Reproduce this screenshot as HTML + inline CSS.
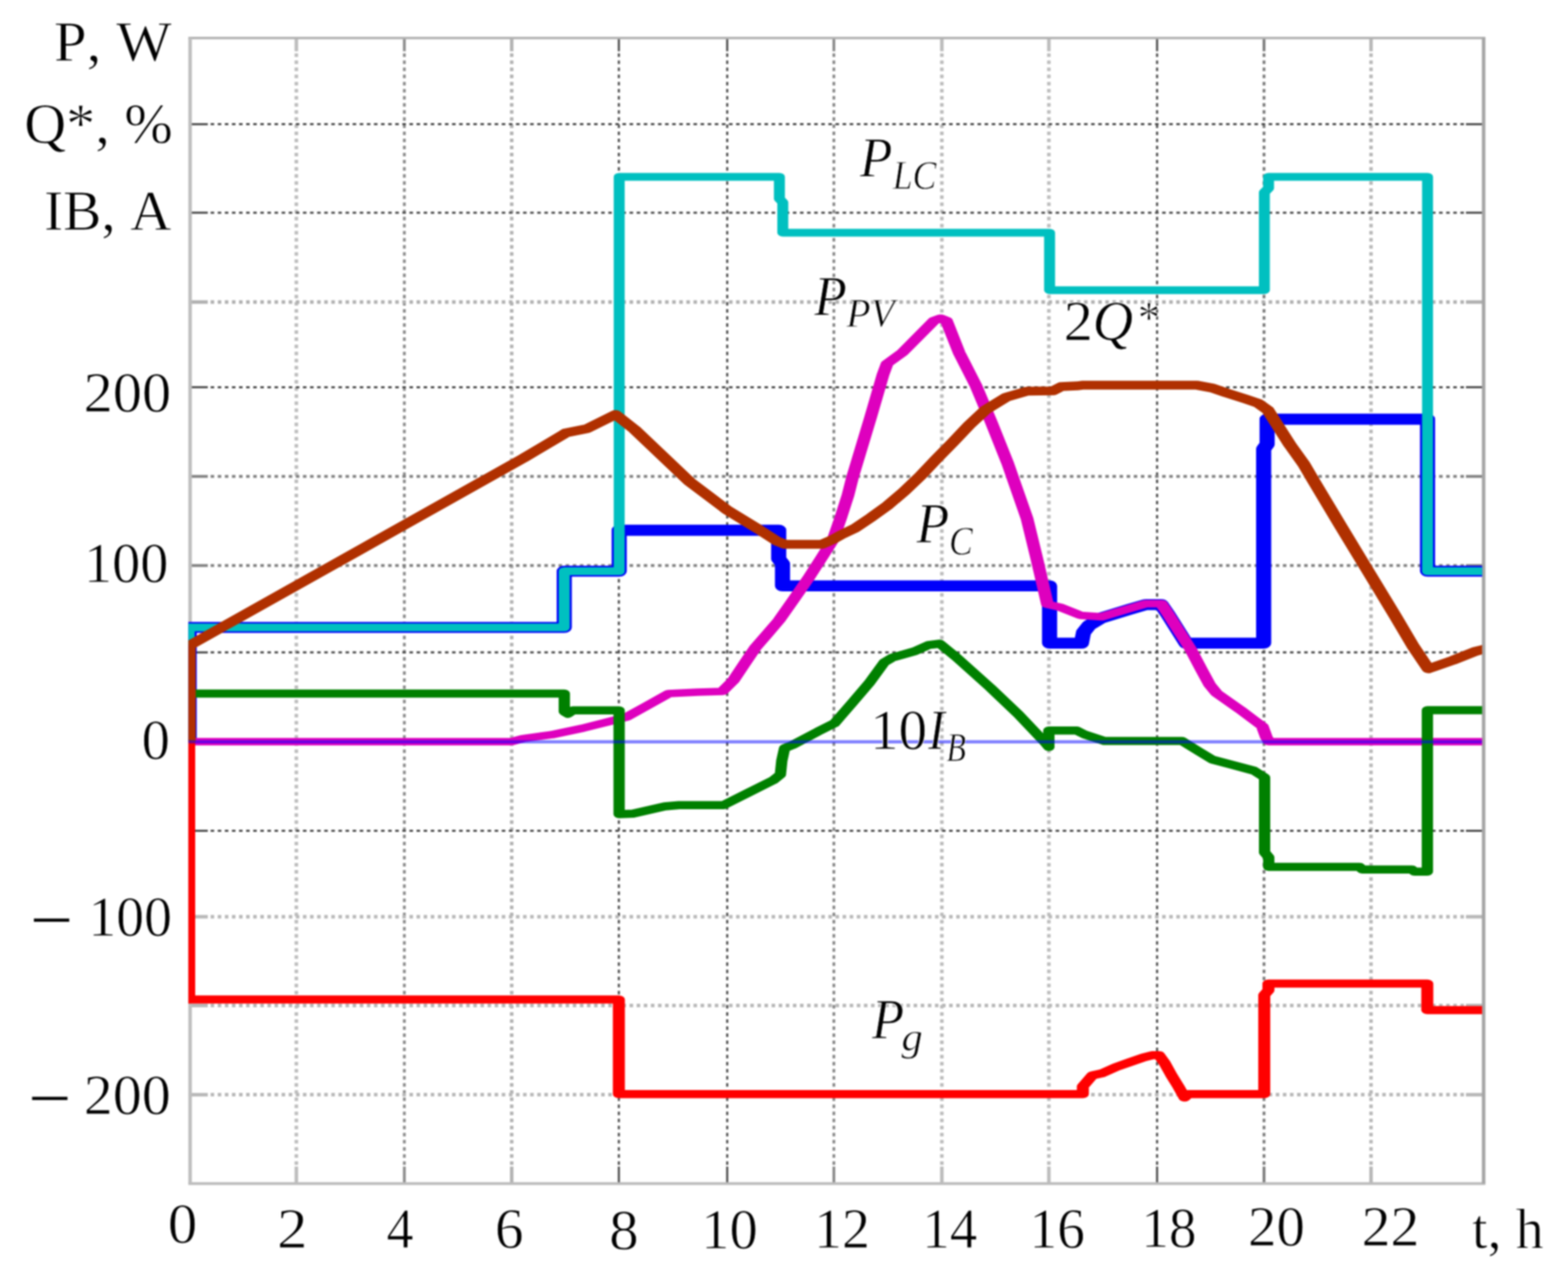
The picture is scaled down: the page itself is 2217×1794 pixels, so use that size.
<!DOCTYPE html>
<html lang="en"><head><meta charset="utf-8"><title>Power chart</title>
<style>
html,body{margin:0;padding:0;background:#fff;}
body{width:2217px;height:1794px;overflow:hidden;}
svg{display:block;}
text{font-family:"Liberation Serif","DejaVu Serif",serif;fill:#000;font-kerning:none;white-space:pre;stroke:#fff;stroke-width:0.9px;paint-order:fill stroke;}
.it{font-style:italic;}
</style></head><body>
<svg width="2217" height="1794" viewBox="0 0 2217 1794">
<rect x="0" y="0" width="2217" height="1794" fill="#fff"/>
<defs><filter id="soft" x="0" y="0" width="100%" height="100%" filterUnits="userSpaceOnUse" color-interpolation-filters="sRGB"><feGaussianBlur stdDeviation="0.85"/></filter></defs>
<g filter="url(#soft)">
<rect x="0" y="0" width="2217" height="1794" fill="#fff"/>
<g fill="none" stroke-dasharray="5 5.04">
<line x1="419.0" y1="75.5" x2="419.0" y2="1649.2" stroke="#bcbcbc" stroke-width="5"/>
<line x1="571.7" y1="75.5" x2="571.7" y2="1649.2" stroke="#8c8c8c" stroke-width="4"/>
<line x1="723.5" y1="75.5" x2="723.5" y2="1649.2" stroke="#b4b4b4" stroke-width="5"/>
<line x1="875.0" y1="75.5" x2="875.0" y2="1649.2" stroke="#4c4c4c" stroke-width="3"/>
<line x1="1028.2" y1="75.5" x2="1028.2" y2="1649.2" stroke="#4c4c4c" stroke-width="3"/>
<line x1="1179.0" y1="75.5" x2="1179.0" y2="1649.2" stroke="#8c8c8c" stroke-width="4"/>
<line x1="1331.7" y1="75.5" x2="1331.7" y2="1649.2" stroke="#bcbcbc" stroke-width="5"/>
<line x1="1483.0" y1="75.5" x2="1483.0" y2="1649.2" stroke="#bcbcbc" stroke-width="5"/>
<line x1="1636.0" y1="75.5" x2="1636.0" y2="1649.2" stroke="#4c4c4c" stroke-width="3"/>
<line x1="1787.2" y1="75.5" x2="1787.2" y2="1649.2" stroke="#7c7c7c" stroke-width="4"/>
<line x1="1938.5" y1="75.5" x2="1938.5" y2="1649.2" stroke="#b8b8b8" stroke-width="5"/>
<line x1="297.8" y1="175.6" x2="2072.7" y2="175.6" stroke="#4c4c4c" stroke-width="3"/>
<line x1="297.8" y1="300.7" x2="2072.7" y2="300.7" stroke="#4c4c4c" stroke-width="3"/>
<line x1="297.8" y1="427.0" x2="2072.7" y2="427.0" stroke="#b0b0b0" stroke-width="5"/>
<line x1="297.8" y1="547.4" x2="2072.7" y2="547.4" stroke="#4c4c4c" stroke-width="3"/>
<line x1="297.8" y1="673.5" x2="2072.7" y2="673.5" stroke="#808080" stroke-width="4"/>
<line x1="297.8" y1="799.5" x2="2072.7" y2="799.5" stroke="#808080" stroke-width="4"/>
<line x1="297.8" y1="922.3" x2="2072.7" y2="922.3" stroke="#4c4c4c" stroke-width="3"/>
<line x1="297.8" y1="1174.5" x2="2072.7" y2="1174.5" stroke="#4c4c4c" stroke-width="3"/>
<line x1="297.8" y1="1296.0" x2="2072.7" y2="1296.0" stroke="#b8b8b8" stroke-width="5"/>
<line x1="297.8" y1="1421.5" x2="2072.7" y2="1421.5" stroke="#b8b8b8" stroke-width="5"/>
<line x1="297.8" y1="1547.6" x2="2072.7" y2="1547.6" stroke="#b8b8b8" stroke-width="5"/>
</g>
<g fill="none">
<line x1="419.0" y1="53.5" x2="419.0" y2="72.5" stroke="#bcbcbc" stroke-width="5"/>
<line x1="419.0" y1="1649.2" x2="419.0" y2="1673.2" stroke="#bcbcbc" stroke-width="5"/>
<line x1="571.7" y1="53.5" x2="571.7" y2="72.5" stroke="#8c8c8c" stroke-width="4"/>
<line x1="571.7" y1="1649.2" x2="571.7" y2="1673.2" stroke="#8c8c8c" stroke-width="4"/>
<line x1="723.5" y1="53.5" x2="723.5" y2="72.5" stroke="#b4b4b4" stroke-width="5"/>
<line x1="723.5" y1="1649.2" x2="723.5" y2="1673.2" stroke="#b4b4b4" stroke-width="5"/>
<line x1="875.0" y1="53.5" x2="875.0" y2="72.5" stroke="#4c4c4c" stroke-width="3"/>
<line x1="875.0" y1="1649.2" x2="875.0" y2="1673.2" stroke="#4c4c4c" stroke-width="3"/>
<line x1="1028.2" y1="53.5" x2="1028.2" y2="72.5" stroke="#4c4c4c" stroke-width="3"/>
<line x1="1028.2" y1="1649.2" x2="1028.2" y2="1673.2" stroke="#4c4c4c" stroke-width="3"/>
<line x1="1179.0" y1="53.5" x2="1179.0" y2="72.5" stroke="#8c8c8c" stroke-width="4"/>
<line x1="1179.0" y1="1649.2" x2="1179.0" y2="1673.2" stroke="#8c8c8c" stroke-width="4"/>
<line x1="1331.7" y1="53.5" x2="1331.7" y2="72.5" stroke="#bcbcbc" stroke-width="5"/>
<line x1="1331.7" y1="1649.2" x2="1331.7" y2="1673.2" stroke="#bcbcbc" stroke-width="5"/>
<line x1="1483.0" y1="53.5" x2="1483.0" y2="72.5" stroke="#bcbcbc" stroke-width="5"/>
<line x1="1483.0" y1="1649.2" x2="1483.0" y2="1673.2" stroke="#bcbcbc" stroke-width="5"/>
<line x1="1636.0" y1="53.5" x2="1636.0" y2="72.5" stroke="#4c4c4c" stroke-width="3"/>
<line x1="1636.0" y1="1649.2" x2="1636.0" y2="1673.2" stroke="#4c4c4c" stroke-width="3"/>
<line x1="1787.2" y1="53.5" x2="1787.2" y2="72.5" stroke="#7c7c7c" stroke-width="4"/>
<line x1="1787.2" y1="1649.2" x2="1787.2" y2="1673.2" stroke="#7c7c7c" stroke-width="4"/>
<line x1="1938.5" y1="53.5" x2="1938.5" y2="72.5" stroke="#b8b8b8" stroke-width="5"/>
<line x1="1938.5" y1="1649.2" x2="1938.5" y2="1673.2" stroke="#b8b8b8" stroke-width="5"/>
<line x1="268.8" y1="175.6" x2="293.8" y2="175.6" stroke="#4c4c4c" stroke-width="3"/>
<line x1="2072.7" y1="175.6" x2="2097.7" y2="175.6" stroke="#4c4c4c" stroke-width="3"/>
<line x1="268.8" y1="300.7" x2="293.8" y2="300.7" stroke="#4c4c4c" stroke-width="3"/>
<line x1="2072.7" y1="300.7" x2="2097.7" y2="300.7" stroke="#4c4c4c" stroke-width="3"/>
<line x1="268.8" y1="427.0" x2="293.8" y2="427.0" stroke="#b0b0b0" stroke-width="5"/>
<line x1="2072.7" y1="427.0" x2="2097.7" y2="427.0" stroke="#b0b0b0" stroke-width="5"/>
<line x1="268.8" y1="547.4" x2="293.8" y2="547.4" stroke="#4c4c4c" stroke-width="3"/>
<line x1="2072.7" y1="547.4" x2="2097.7" y2="547.4" stroke="#4c4c4c" stroke-width="3"/>
<line x1="268.8" y1="673.5" x2="293.8" y2="673.5" stroke="#808080" stroke-width="4"/>
<line x1="2072.7" y1="673.5" x2="2097.7" y2="673.5" stroke="#808080" stroke-width="4"/>
<line x1="268.8" y1="799.5" x2="293.8" y2="799.5" stroke="#808080" stroke-width="4"/>
<line x1="2072.7" y1="799.5" x2="2097.7" y2="799.5" stroke="#808080" stroke-width="4"/>
<line x1="268.8" y1="922.3" x2="293.8" y2="922.3" stroke="#4c4c4c" stroke-width="3"/>
<line x1="2072.7" y1="922.3" x2="2097.7" y2="922.3" stroke="#4c4c4c" stroke-width="3"/>
<line x1="268.8" y1="1174.5" x2="293.8" y2="1174.5" stroke="#4c4c4c" stroke-width="3"/>
<line x1="2072.7" y1="1174.5" x2="2097.7" y2="1174.5" stroke="#4c4c4c" stroke-width="3"/>
<line x1="268.8" y1="1296.0" x2="293.8" y2="1296.0" stroke="#b8b8b8" stroke-width="5"/>
<line x1="2072.7" y1="1296.0" x2="2097.7" y2="1296.0" stroke="#b8b8b8" stroke-width="5"/>
<line x1="268.8" y1="1421.5" x2="293.8" y2="1421.5" stroke="#b8b8b8" stroke-width="5"/>
<line x1="2072.7" y1="1421.5" x2="2097.7" y2="1421.5" stroke="#b8b8b8" stroke-width="5"/>
<line x1="268.8" y1="1547.6" x2="293.8" y2="1547.6" stroke="#b8b8b8" stroke-width="5"/>
<line x1="2072.7" y1="1547.6" x2="2097.7" y2="1547.6" stroke="#b8b8b8" stroke-width="5"/>
</g>
<line x1="266.3" y1="53.8" x2="2100.2" y2="53.8" stroke="#b2b2b2" stroke-width="3.4"/>
<line x1="266.3" y1="1673.2" x2="2100.2" y2="1673.2" stroke="#bcbcbc" stroke-width="4"/>
<line x1="268.8" y1="53.5" x2="268.8" y2="1673.2" stroke="#bebebe" stroke-width="5"/>
<line x1="2097.7" y1="53.5" x2="2097.7" y2="1673.2" stroke="#a6a6a6" stroke-width="5"/>
<clipPath id="clip"><rect x="266.3" y="54.5" width="1829.3" height="1617.7"/></clipPath>
<g fill="none" stroke-linejoin="round" stroke-linecap="butt" clip-path="url(#clip)">
<path transform="scale(1.3718 1)" stroke="#0000fa" stroke-width="15.6" d="M195.00 1048.5L195.00 887.0L581.57 887.0L581.57 807.5L638.21 807.5L638.21 749.6L802.60 749.6L802.60 790.0L806.53 797.0L806.53 828.3L1081.79 828.3L1081.79 909.3L1114.60 909.3L1116.79 894.0L1122.62 884.0L1135.37 873.5L1163.95 861.5L1180.93 854.8L1196.83 854.8L1203.97 869.0L1213.96 890.7L1222.49 909.3L1302.45 909.3L1302.45 634.7L1306.03 628.0L1306.03 592.6L1471.36 592.6L1471.36 807.5L1530.84 807.5"/>
<path transform="scale(1.4091 1)" stroke="#00c0c0" stroke-width="11" d="M189.84 912.0L189.84 887.0L566.18 887.0L566.18 807.5L621.32 807.5L621.32 249.9L782.06 249.9L782.06 281.0L785.47 286.0L785.47 328.9L1053.16 328.9L1053.16 410.2L1268.69 410.2L1268.69 272.0L1272.88 266.0L1272.88 249.9L1432.41 249.9L1432.41 807.5L1490.32 807.5"/>
<path transform="scale(1.7143 1)" stroke="#de00be" stroke-width="10.5" d="M156.04 1048.5L421.75 1048.5L431.67 1044.0L455.00 1038.7L480.49 1029.5L505.17 1018.9L516.83 1013.6L532.29 999.0L551.60 980.5L575.52 978.5L595.64 977.5L604.80 962.0L613.96 938.5L623.06 915.5L632.22 897.5L642.48 877.0L654.79 847.0L666.75 817.5L677.83 788.0L687.17 762.7L693.18 733.3L699.42 700.0L703.15 674.7L717.97 590.4L728.29 529.7L731.68 514.0L744.28 498.4L770.58 453.0L775.83 449.8L780.50 453.0L791.00 498.4L805.00 545.4L817.43 596.3L831.13 655.0L847.12 733.4L855.17 790.0L863.92 854.4L874.30 858.4L891.33 870.0L908.54 872.0L931.41 860.3L945.00 853.5L957.72 853.5L963.43 868.0L971.43 889.7L981.75 917.0L990.85 946.5L997.68 968.0L1003.33 979.8L1022.82 1003.3L1041.13 1026.8L1044.52 1042.5L1046.79 1048.5L1225.00 1048.5"/>
<path transform="scale(1.3913 1)" stroke="#008000" stroke-width="11.5" d="M192.27 980.5L573.49 980.5L573.49 1006.0L577.16 1009.0L582.19 1004.3L629.19 1004.3L629.19 1151.0L643.28 1150.3L675.62 1140.0L690.00 1138.2L735.28 1138.2L760.73 1120.5L786.02 1102.9L793.07 1095.0L794.51 1075.5L797.31 1057.8L805.72 1053.0L831.09 1034.3L847.98 1022.6L866.31 993.2L883.20 965.8L898.65 936.4L907.06 929.5L929.63 920.7L943.72 911.9L955.00 910.0L971.75 929.0L1006.25 972.0L1035.00 1010.0L1062.31 1050.0L1065.91 1056.0L1065.91 1032.7L1094.15 1032.7L1102.56 1038.6L1122.26 1047.4L1201.03 1047.4L1217.99 1062.0L1232.08 1073.8L1253.21 1081.7L1274.34 1089.5L1285.12 1099.0L1285.12 1205.0L1289.37 1212.0L1289.37 1225.4L1381.58 1225.4L1384.31 1229.3L1435.06 1229.3L1437.50 1232.3L1450.58 1232.3L1450.58 1004.1L1509.38 1004.1"/>
<path transform="scale(1.4783 1)" stroke="#ff0000" stroke-width="11.5" d="M180.96 1048.5L180.96 1413.1L591.91 1413.1L591.91 1546.7L1035.68 1546.7L1035.68 1535.9L1044.88 1520.2L1054.21 1517.3L1067.47 1508.5L1080.66 1501.6L1093.85 1494.8L1101.90 1491.8L1108.53 1491.8L1113.81 1502.6L1120.44 1520.2L1127.00 1535.9L1133.02 1551.6L1136.34 1546.7L1209.19 1546.7L1209.19 1406.6L1213.18 1400.0L1213.18 1390.5L1365.12 1390.5L1365.12 1428.0L1420.59 1428.0"/>
<path transform="scale(1.4800 1)" stroke="#b03000" stroke-width="12.5" d="M180.74 1048.5L180.74 912.8L500.00 647.7L538.51 614.0L540.54 612.0L560.81 606.0L588.04 586.0L606.08 607.0L632.43 644.0L658.78 681.0L694.59 721.0L725.00 748.5L742.23 765.0L750.00 769.5L785.14 769.5L795.61 762.7L803.72 756.0L816.96 746.6L832.57 731.1L848.11 714.4L863.65 694.8L879.26 672.9L894.80 648.7L910.41 625.1L925.95 600.9L941.49 579.5L961.35 561.5L981.22 553.0L1006.08 552.5L1013.99 546.6L1028.58 545.6L1033.78 544.6L1143.72 544.6L1158.24 548.6L1171.49 555.4L1190.07 564.2L1201.96 570.1L1211.22 579.9L1220.47 601.4L1232.36 628.9L1245.61 656.3L1254.73 679.2L1280.07 741.9L1306.55 806.5L1333.04 871.1L1350.27 914.2L1364.53 945.5L1387.97 933.5L1409.19 921.0L1418.92 917.5"/>
<rect x="266.3" y="1046.4" width="1829.3" height="4.6" fill="#0000ff" fill-opacity="0.5"/>
</g>
<text transform="translate(76.32 86.10) scale(1.0399 1)" font-size="80">P, W</text>
<text transform="translate(34.22 202.30) scale(1.0271 1)" font-size="80">Q*, %</text>
<text transform="translate(62.27 324.70) scale(1.0136 1)" font-size="80">IB, A</text>
<text transform="translate(118.21 582.30) scale(1.0316 1)" font-size="80">200</text>
<text transform="translate(118.63 823.30) scale(0.9964 1)" font-size="80">100</text>
<text transform="translate(200.30 1073.00) scale(1.0000 1)" font-size="80">0</text>
<text transform="translate(124.90 1323.30) scale(0.9864 1)" font-size="80">100</text>
<text transform="translate(118.43 1575.30) scale(1.0246 1)" font-size="80">200</text>
<text transform="translate(41.71 1338.30) scale(0.9774 1)" font-size="112">−</text>
<text transform="translate(39.20 1590.30) scale(0.9792 1)" font-size="112">−</text>
<text transform="translate(237.37 1757.30) scale(1.0441 1)" font-size="80">0</text>
<text transform="translate(391.87 1764.30) scale(1.0758 1)" font-size="80">2</text>
<text transform="translate(546.55 1764.30) scale(0.9526 1)" font-size="80">4</text>
<text transform="translate(699.76 1763.80) scale(1.0143 1)" font-size="80">6</text>
<text transform="translate(861.17 1765.50) scale(1.0441 1)" font-size="80">8</text>
<text transform="translate(991.62 1765.00) scale(0.9971 1)" font-size="80">10</text>
<text transform="translate(1150.97 1764.30) scale(0.9899 1)" font-size="80">12</text>
<text transform="translate(1304.10 1764.30) scale(0.9708 1)" font-size="80">14</text>
<text transform="translate(1455.54 1763.80) scale(0.9803 1)" font-size="80">16</text>
<text transform="translate(1613.77 1763.20) scale(0.9757 1)" font-size="80">18</text>
<text transform="translate(1764.38 1760.70) scale(1.0081 1)" font-size="80">20</text>
<text transform="translate(1925.13 1761.20) scale(1.0219 1)" font-size="80">22</text>
<text transform="translate(2081.30 1763.70) scale(0.9912 1)" font-size="80">t, h</text>
<text transform="translate(1215.74 249.80) scale(0.9417 1)" font-size="80" class="it">P</text>
<text transform="translate(1262.20 266.70) scale(0.9043 1)" font-size="56" class="it">LC</text>
<text transform="translate(1151.14 445.50) scale(0.9417 1)" font-size="80" class="it">P</text>
<text transform="translate(1196.70 462.40) scale(0.9959 1)" font-size="56" class="it">PV</text>
<text transform="translate(1504.10 480.50) scale(1.0333 1)" font-size="80">2</text>
<text transform="translate(1544.82 480.50) scale(0.9943 1)" font-size="80" class="it">Q</text>
<text transform="translate(1608.64 471.00) scale(0.9519 1)" font-size="66">*</text>
<text transform="translate(1295.75 767.30) scale(0.9479 1)" font-size="80" class="it">P</text>
<text transform="translate(1342.02 784.30) scale(0.8943 1)" font-size="56" class="it">C</text>
<text transform="translate(1230.14 1058.50) scale(1.0086 1)" font-size="80">10</text>
<text transform="translate(1312.18 1059.00) scale(0.8839 1)" font-size="80" class="it">I</text>
<text transform="translate(1338.30 1075.50) scale(0.8030 1)" font-size="56" class="it">B</text>
<text transform="translate(1232.63 1468.00) scale(0.9313 1)" font-size="80" class="it">P</text>
<text transform="translate(1274.60 1484.50) scale(1.0444 1)" font-size="58" class="it">g</text>
</g>
</svg></body></html>
